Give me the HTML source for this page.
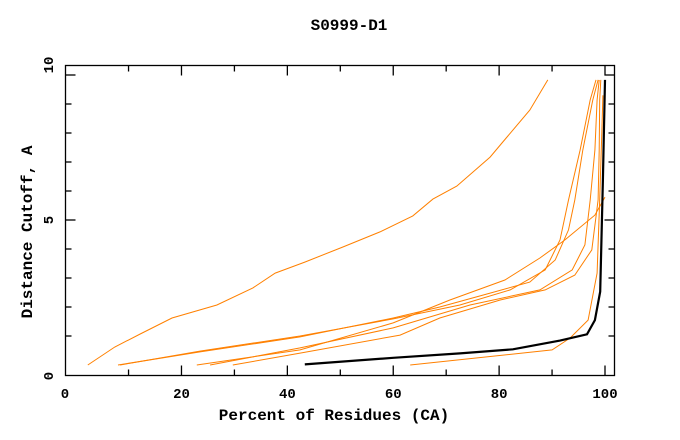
<!DOCTYPE html>
<html><head><meta charset="utf-8"><style>
body{margin:0;background:#fff}
svg{display:block}
text{font-family:"Liberation Mono",monospace;font-weight:bold;font-size:14px;fill:#000}
.big{font-size:16px}
</style></head><body>
<svg id="chart" width="680" height="440" viewBox="0 0 680 440">
<text class="big" x="349" y="30" text-anchor="middle">S0999-D1</text>
<text class="big" x="334" y="420" text-anchor="middle">Percent of Residues (CA)</text>
<text class="big" transform="translate(32,232) rotate(-90)" text-anchor="middle">Distance Cutoff, A</text>
<g id="ticks"></g>
<g id="series"></g>
<rect x="65.5" y="65.5" width="549" height="310" fill="none" stroke="#000" stroke-width="1.3"/>
</svg>
<script>
const xTickValues=[10,20,30,40,50,60,70,80,90,100];
const xTickLabels=["0","20","40","60","80","100"];
const yTickValues=[1,2,3,4,5,6,7,8,9,10];
const yTickLabels=["0","5","10"];
const blackX=[43.3,60.0,72.6,82.6,91.5,96.6,98.1,99.1,99.6,100];
const blackY=[0.02,0.25,0.40,0.54,0.84,1.06,1.55,2.53,6.38,9.83];
const c0X=[2.3,7.4,12.2,18.2,26.7,33.5,37.7,43.3,50.5,57.5,63.7,67.5,72.0,78.3,80.7,85.8,89.2];
const c0Y=[0,0.62,1.07,1.62,2.07,2.66,3.17,3.55,4.07,4.59,5.14,5.72,6.17,7.17,7.69,8.79,9.83];
const c1X=[8.0,23.5,42.4,60.0,68.8,78.3,85.8,90.6,93.1,94.3,95.8,97.7,98.7];
const c1Y=[0,0.45,0.97,1.62,2.0,2.48,2.86,3.62,4.66,5.69,7.41,9.14,9.83];
const c2X=[8.4,23.5,42.4,60.0,72.6,82.1,88.7,91.5,93.1,95.3,97.2,98.3];
const c2Y=[0,0.48,1.0,1.59,2.07,2.59,3.28,4.31,5.69,7.41,9.14,9.83];
const c3X=[22.9,42.4,60.0,70.7,81.1,87.7,92.4,98.1,100];
const c3Y=[0,0.52,1.45,2.24,2.93,3.69,4.31,5.17,5.79];
const c4X=[25.4,42.4,60.0,74.5,87.7,93.8,96.2,97.2,98.1,98.5,98.9];
const c4Y=[0,0.59,1.28,2.07,2.59,3.28,4.14,5.69,7.41,9.14,9.83];
const c5X=[29.7,42.4,61.3,68.8,80.2,88.7,94.3,97.5,98.7,98.9,99.0,99.2];
const c5Y=[0,0.41,1.03,1.62,2.24,2.59,3.10,3.97,5.69,7.41,9.14,9.83];
const c6X=[63.2,90.0,93.4,96.8,98.5,99.0,99.4,99.6];
const c6Y=[0,0.52,0.93,1.55,3.17,5.7,8.0,9.3];

const NS="http://www.w3.org/2000/svg";
function sx(v){return 75.6+5.294*v;}
function sy(v){return 365-29*v;}
const tg=document.getElementById('ticks');
const sg=document.getElementById('series');
function ln(x1,y1,x2,y2){const l=document.createElementNS(NS,'line');l.setAttribute('x1',x1);l.setAttribute('y1',y1);l.setAttribute('x2',x2);l.setAttribute('y2',y2);l.setAttribute('stroke','#000');l.setAttribute('stroke-width','1.3');


tg.appendChild(l);}
xTickValues.forEach(v=>{const x=sx(v);const len=(v%20===0)?10:6;ln(x,375.5,x,375.5-len);ln(x,65.5,x,65.5+len);});
yTickValues.forEach(v=>{const y=sy(v);const len=(v%5===0)?10:6;ln(65.5,y,65.5+len,y);ln(614.5,y,614.5-len,y);});
xTickLabels.forEach((t,i)=>{const x=i===0?65:sx(+t);const e=document.createElementNS(NS,'text');e.setAttribute('x',x);e.setAttribute('y',398);e.setAttribute('text-anchor','middle');e.textContent=t;


tg.appendChild(e);});
yTickLabels.forEach((t,i)=>{const y=[376,220,65][i];const e=document.createElementNS(NS,'text');e.setAttribute('transform','translate(53,'+y+') rotate(-90)');e.setAttribute('text-anchor','middle');e.textContent=t;


tg.appendChild(e);});
function draw(xs,ys,color,w,name){const p=document.createElementNS(NS,'polyline');p.setAttribute('points',xs.map((v,i)=>sx(v).toFixed(1)+','+sy(ys[i]).toFixed(1)).join(' '));p.setAttribute('fill','none');p.setAttribute('stroke',color);p.setAttribute('stroke-width',w);


sg.appendChild(p);}
const oc='#ff8000';
draw(c0X,c0Y,oc,1,'series-line-1');
draw(c1X,c1Y,oc,1,'series-line-2');
draw(c2X,c2Y,oc,1,'series-line-3');
draw(c3X,c3Y,oc,1,'series-line-4');
draw(c4X,c4Y,oc,1,'series-line-5');
draw(c5X,c5Y,oc,1,'series-line-6');
draw(c6X,c6Y,oc,1,'series-line-7');
draw(blackX,blackY,'#000',2.2,'highlighted-series-line');
</script>
</body></html>
